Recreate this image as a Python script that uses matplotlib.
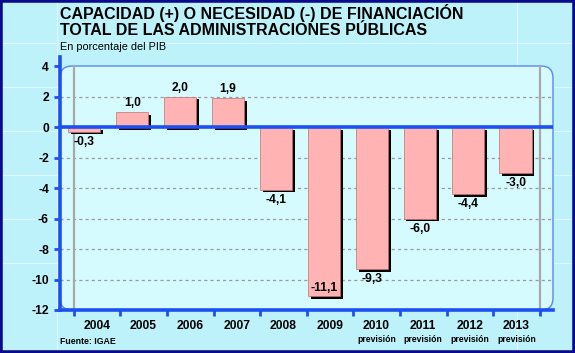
import numpy as np
import matplotlib
matplotlib.use("Agg")
import matplotlib.pyplot as plt
import matplotlib.patheffects as pe
from matplotlib.patches import FancyBboxPatch, Rectangle
from matplotlib.lines import Line2D

plt.rcParams["font.family"] = ["Liberation Sans", "DejaVu Sans"]

# ── data ──────────────────────────────────────────────────────────────────────
years = ["2004", "2005", "2006", "2007", "2008", "2009", "2010", "2011", "2012", "2013"]
values = [-0.3, 1.0, 2.0, 1.9, -4.1, -11.1, -9.3, -6.0, -4.4, -3.0]
is_forecast = [False, False, False, False, False, False, True, True, True, True]
y_ticks = [4, 2, 0, -2, -4, -6, -8, -10, -12]
value_labels = [f"{v:.1f}".replace(".", ",") for v in values]

# ── colours ───────────────────────────────────────────────────────────────────
BG = "#bdf2fb"
PANEL = "#d6fbff"
BLUE = "#1e4ff0"
NAVY = "#0a0a8c"
BAR = "#ffb3b3"

W_PX, H_PX = 575, 353
fig = plt.figure(figsize=(W_PX / 100, H_PX / 100), dpi=100)
fig.patch.set_facecolor(BG)

# faint background grid (spreadsheet look)
for yy in [43, 87, 131, 175, 219, 263]:
    fig.add_artist(Line2D([0, 1], [1 - yy / H_PX] * 2, transform=fig.transFigure,
                          color="white", lw=0.8, alpha=0.5, zorder=-3))
for xx in [57, 517]:
    fig.add_artist(Line2D([xx / W_PX] * 2, [0, 1], transform=fig.transFigure,
                          color="white", lw=0.8, alpha=0.5, zorder=-3))

# inner rounded panel (inches from bottom-left)
px0, px1, py_top, py_bot = 60, 553, 66, 310
panel = FancyBboxPatch((px0 / 100, (H_PX - py_bot) / 100), (px1 - px0) / 100,
                       (py_bot - py_top) / 100,
                       boxstyle="round,pad=0,rounding_size=0.12",
                       transform=fig.dpi_scale_trans, facecolor=PANEL,
                       edgecolor="#5a86f0", lw=1.0, zorder=-2)
fig.add_artist(panel)

# axes placement
ax_top_px = 57
ax = fig.add_axes([px0 / W_PX, 1 - py_bot / H_PX, (px1 - px0) / W_PX,
                   (py_bot - ax_top_px) / H_PX])
ax.set_facecolor("none")

x = np.arange(len(years))
scale = 46.6          # px per category
x_first = 97          # px centre of first category
ax.set_xlim((px0 - x_first) / scale, (px1 - x_first) / scale)
ax.set_ylim(-12, 4 + (py_top - ax_top_px) / 15.2)

# the original's bars sit on a slightly wider pitch than the year labels
bar_pos = x * 1.028 - 0.27

# gridlines
for t in y_ticks:
    if t not in (0, -12, 4):
        ax.axhline(t, color="#9a9a9a", lw=0.9, ls=(0, (2.5, 2.5)), zorder=1)
for b in [x[0] - 0.5, x[-1] + 0.5]:
    ax.plot([b, b], [-12, 4], color="#a8a8a8", lw=1.6, zorder=1)

# bars with drop shadow
bars = ax.bar(bar_pos, values, width=0.69, color=BAR, edgecolor="#c07070",
              lw=0.5, zorder=3)
for b in bars:
    b.set_path_effects([pe.SimplePatchShadow(offset=(2, -2), shadow_rgbFace="black",
                                             alpha=1.0), pe.Normal()])

ax.axhline(0, color=BLUE, lw=2.6, zorder=4)

# value labels
for xi, v, lab in zip(bar_pos, values, value_labels):
    if v >= 0:
        ax.annotate(lab, (xi, v), xytext=(0, 3), textcoords="offset pixels",
                    ha="center", va="bottom", fontsize=8.7, fontweight="bold")
    elif v < -10:
        ax.annotate(lab, (xi, v), xytext=(0, 2), textcoords="offset pixels",
                    ha="center", va="bottom", fontsize=8.7, fontweight="bold", zorder=5)
    else:
        ax.annotate(lab, (xi, v), xytext=(0, -4), textcoords="offset pixels",
                    ha="center", va="top", fontsize=8.7, fontweight="bold")

# axes styling
for s in ["top", "right"]:
    ax.spines[s].set_visible(False)
for s in ["left", "bottom"]:
    ax.spines[s].set_color(BLUE)
    ax.spines[s].set_linewidth(2.6)

ax.set_yticks(y_ticks, labels=[str(t) for t in y_ticks])
ax.tick_params(axis="y", length=4, width=2, color=BLUE, pad=4,
               labelsize=8.7)
for lab in ax.get_yticklabels():
    lab.set_fontweight("bold")

ax.set_xticks(x, labels=years)
ax.set_xticks(np.append(x - 0.5, x[-1] + 0.5), minor=True)
ax.tick_params(axis="x", which="major", length=0, pad=7, labelsize=8.7)
ax.tick_params(axis="x", which="minor", length=4, width=2, color=BLUE)
for lab in ax.get_xticklabels():
    lab.set_fontweight("bold")

for xi, f in zip(x, is_forecast):
    if f:
        ax.annotate("previsión", (xi, 0), xycoords=("data", "axes fraction"),
                    xytext=(0, -29), textcoords="offset pixels", ha="center",
                    va="center", fontsize=6.2, fontweight="bold")

# titles
fig.text(60 / W_PX, 1 - 19 / H_PX, "CAPACIDAD (+) O NECESIDAD (-) DE FINANCIACIÓN",
         fontsize=11.5, fontweight="bold", va="baseline", ha="left")
fig.text(60 / W_PX, 1 - 35 / H_PX, "TOTAL DE LAS ADMINISTRACIONES PÚBLICAS",
         fontsize=11.5, fontweight="bold", va="baseline", ha="left")
fig.text(60 / W_PX, 1 - 47 / H_PX, "En porcentaje del PIB", fontsize=7.8,
         va="center", ha="left")
fig.text(60 / W_PX, 1 - 342 / H_PX, "Fuente: IGAE", fontsize=6.3,
         fontweight="bold", va="center", ha="left")

# navy border
fig.add_artist(Rectangle((0, 0), 1, 1, transform=fig.transFigure, fill=False,
                         edgecolor=NAVY, lw=4, zorder=10))

fig.savefig("out.png", dpi=100, facecolor=BG)
